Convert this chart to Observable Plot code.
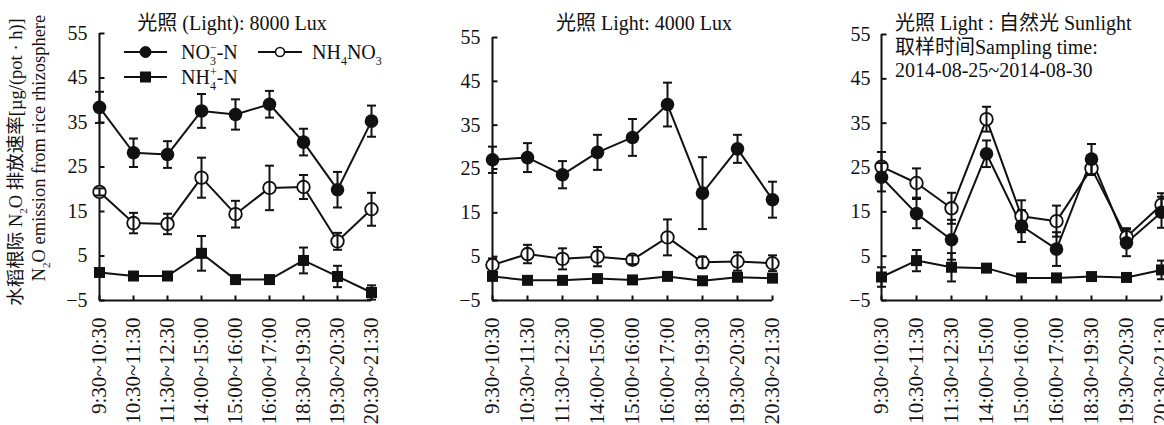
<!DOCTYPE html>
<html><head><meta charset="utf-8">
<script src="https://cdn.jsdelivr.net/npm/d3@7"></script>
<script src="https://cdn.jsdelivr.net/npm/@observablehq/plot@0.6"></script>
<style>
html,body{margin:0;padding:0;background:#fff;overflow:hidden;}
#wrap{position:relative;width:1164px;height:425px;overflow:hidden;background:#fff;}
#wrap svg{position:absolute;top:0;}
#wrap svg text{font-family:"Liberation Serif","Times New Roman","Noto Sans CJK SC",serif !important;}
</style></head><body><div id="wrap"></div>
<script>
// ---------- data ----------
const times = ["9:30~10:30","10:30~11:30","11:30~12:30","14:00~15:00","15:00~16:00","16:00~17:00","18:30~19:30","19:30~20:30","20:30~21:30"];
const yTicks = [-5, 5, 15, 25, 35, 45, 55];

// 8000 Lux
const no3_8000      = [38.4, 28.2, 27.8, 37.6, 36.8, 39.1, 30.6, 19.9, 35.3];
const no3_8000_err  = [3.5, 3.2, 3.0, 3.8, 3.4, 3.0, 3.0, 4.0, 3.5];
const mix_8000      = [19.4, 12.4, 12.2, 22.6, 14.4, 20.3, 20.5, 8.3, 15.5];
const mix_8000_err  = [0.8, 2.3, 2.3, 4.5, 3.0, 5.0, 2.7, 1.9, 3.7];
const nh4_8000      = [1.3, 0.5, 0.5, 5.6, -0.3, -0.3, 4.0, 0.4, -3.2];
const nh4_8000_err  = [0.5, 0.4, 0.4, 3.9, 0.4, 0.4, 2.9, 2.4, 1.6];

// 4000 Lux
const no3_4000      = [27.1, 27.6, 23.7, 28.8, 32.2, 39.7, 19.5, 29.6, 18.0];
const no3_4000_err  = [3.0, 3.3, 3.1, 4.0, 4.2, 5.0, 8.2, 3.2, 4.1];
const mix_4000      = [3.1, 5.6, 4.5, 5.0, 4.3, 9.4, 3.7, 3.9, 3.5];
const mix_4000_err  = [1.5, 2.1, 2.4, 2.2, 1.0, 4.1, 1.3, 2.1, 1.8];
const nh4_4000      = [0.5, -0.4, -0.4, 0.0, -0.3, 0.5, -0.5, 0.3, 0.1];
const nh4_4000_err  = [0.8, 0.3, 0.3, 0.3, 0.3, 0.4, 0.3, 0.4, 0.4];

// Sunlight
const no3_sun       = [22.8, 14.6, 8.7, 28.1, 11.8, 6.6, 26.9, 8.0, 14.9];
const no3_sun_err   = [3.2, 3.3, 4.5, 3.0, 3.6, 3.8, 3.4, 3.0, 3.5];
const mix_sun       = [25.2, 21.5, 15.8, 35.9, 14.0, 12.9, 24.8, 9.3, 16.6];
const mix_sun_err   = [3.3, 3.3, 3.5, 2.8, 3.6, 3.5, 1.5, 2.0, 2.6];
const nh4_sun       = [0.3, 4.0, 2.5, 2.3, 0.1, 0.1, 0.4, 0.2, 1.9];
const nh4_sun_err   = [2.2, 2.4, 3.2, 0.5, 0.5, 0.5, 0.5, 0.4, 2.1];

// ---------- drawing ----------
const FONT = '"Liberation Serif","Times New Roman","Noto Sans CJK SC",serif';
const INK = "#111";
const wrap = document.getElementById("wrap");
const capSymbol = {draw(ctx){ ctx.moveTo(-4.5, 0); ctx.lineTo(4.5, 0); }};
const yTickSymbol = {draw(ctx){ ctx.moveTo(0, 0); ctx.lineTo(5, 0); }};
const xTickSymbol = {draw(ctx){ ctx.moveTo(0, 0); ctx.lineTo(0, -5); }};

function rows(vals, errs, series) {
  return vals.map((v, i) => ({time: times[i], v, lo: v - errs[i], hi: v + errs[i], series}));
}

function panel({no3, no3Err, mix, mixErr, nh4, nh4Err, left, marginTop, innerWidth}) {
  const A = rows(no3, no3Err, "NO3"), B = rows(mix, mixErr, "NH4NO3"), C = rows(nh4, nh4Err, "NH4");
  const all = [...B, ...A, ...C];
  const mR = 40;
  const chart = Plot.plot({
    width: 98 + innerWidth + mR, height: 425,
    marginLeft: 98, marginRight: mR, marginTop, marginBottom: 125,
    style: {fontFamily: FONT, fontSize: "20px", color: INK, background: "transparent", overflow: "visible"},
    x: {type: "point", domain: times, padding: 0},
    y: {domain: [-5, 55]},
    marks: [
      Plot.ruleX([times[0]], {y1: -5, y2: 55, stroke: INK, strokeWidth: 2}),
      Plot.ruleY([-5], {x1: () => times[0], x2: () => times[times.length - 1], stroke: INK, strokeWidth: 2}),
      Plot.dot(yTicks, {x: () => times[0], y: d => d, symbol: yTickSymbol, fill: "none", stroke: INK, strokeWidth: 2}),
      Plot.dot(times, {x: d => d, y: () => -5, symbol: xTickSymbol, fill: "none", stroke: INK, strokeWidth: 2}),
      Plot.axisY({ticks: yTicks, tickSize: 0, tickPadding: 11, label: null, fontSize: 20, fill: INK}),
      Plot.axisX({tickSize: 0, tickPadding: 17, tickRotate: -90, label: null, fontSize: 21, fill: INK}),
      Plot.line(A, {x: "time", y: "v", stroke: INK, strokeWidth: 2}),
      Plot.line(B, {x: "time", y: "v", stroke: INK, strokeWidth: 2}),
      Plot.line(C, {x: "time", y: "v", stroke: INK, strokeWidth: 2}),
      Plot.dot(B, {x: "time", y: "v", symbol: "circle", r: 6.3, fill: "white", stroke: INK, strokeWidth: 1.8}),
      Plot.ruleX(all, {x: "time", y1: "lo", y2: "hi", stroke: INK, strokeWidth: 2}),
      Plot.dot(all, {x: "time", y: "lo", symbol: capSymbol, fill: "none", stroke: INK, strokeWidth: 2}),
      Plot.dot(all, {x: "time", y: "hi", symbol: capSymbol, fill: "none", stroke: INK, strokeWidth: 2}),
      Plot.dot(A, {x: "time", y: "v", symbol: "circle", r: 6.8, fill: INK}),
      Plot.dot(C, {x: "time", y: "v", symbol: "square", r: 6.2, fill: INK})
    ]
  });
  chart.style.left = left + "px";
  chart.style.maxWidth = "none";
  wrap.appendChild(chart);
}

panel({no3: no3_8000, no3Err: no3_8000_err, mix: mix_8000, mixErr: mix_8000_err, nh4: nh4_8000, nh4Err: nh4_8000_err, left: 0, marginTop: 33, innerWidth: 274});
panel({no3: no3_4000, no3Err: no3_4000_err, mix: mix_4000, mixErr: mix_4000_err, nh4: nh4_4000, nh4Err: nh4_4000_err, left: 393, marginTop: 37, innerWidth: 282});
panel({no3: no3_sun, no3Err: no3_sun_err, mix: mix_sun, mixErr: mix_sun_err, nh4: nh4_sun, nh4Err: nh4_sun_err, left: 783, marginTop: 34, innerWidth: 280});

// ---------- overlay: titles, legend, y label ----------
const svg = d3.select(wrap).append("svg")
  .attr("width", 1164).attr("height", 425)
  .style("left", "0px").style("font-family", FONT).style("fill", INK);

function rich(sel, parts, size) {
  const small = Math.round(size * 0.62);
  let shift = 0;
  for (const p of parts) {
    const [t, kind] = p;
    if (!kind) {
      sel.append("tspan").attr("dy", -shift).attr("font-size", size).text(t);
      shift = 0;
    } else if (kind === "sub") {
      const d = size * 0.28;
      sel.append("tspan").attr("dy", d - shift).attr("font-size", small).text(t);
      shift = d;
    } else if (kind === "subsup") {
      const [a, b] = t;
      const d = size * 0.28, u = -size * 0.38;
      sel.append("tspan").attr("dy", d - shift).attr("font-size", small).text(a);
      sel.append("tspan").attr("dx", -small * 0.5).attr("dy", u - d).attr("font-size", small).text(b);
      shift = u;
    }
  }
}

// Titles
svg.append("text").attr("x", 232).attr("y", 23).attr("dy", "0.35em").attr("text-anchor", "middle")
  .attr("font-size", 20).text("光照 (Light): 8000 Lux");
svg.append("text").attr("x", 644).attr("y", 23).attr("dy", "0.35em").attr("text-anchor", "middle")
  .attr("font-size", 20).text("光照 Light: 4000 Lux");
[["光照 Light : 自然光 Sunlight", 23], ["取样时间Sampling time:", 47], ["2014-08-25~2014-08-30", 70]].forEach(([t, y]) => {
  svg.append("text").attr("x", 895).attr("y", y).attr("dy", "0.35em").attr("font-size", 20).text(t);
});

// Legend
const lg = svg.append("g").attr("stroke", INK);
function legendItem(x1, x2, y, marker, tx, parts) {
  lg.append("line").attr("x1", x1).attr("x2", x2).attr("y1", y).attr("y2", y).attr("stroke-width", 2);
  const mx = (x1 + x2) / 2;
  if (marker === "dot") lg.append("circle").attr("cx", mx).attr("cy", y).attr("r", 5.5).attr("fill", INK);
  if (marker === "open") lg.append("circle").attr("cx", mx).attr("cy", y).attr("r", 4.5).attr("fill", "white").attr("stroke-width", 1.6);
  if (marker === "square") lg.append("rect").attr("x", mx - 5).attr("y", y - 5).attr("width", 10).attr("height", 10).attr("fill", INK);
  const t = svg.append("text").attr("x", tx).attr("y", y + 7).attr("font-size", 20);
  rich(t, parts, 20);
}
legendItem(124, 167, 52, "dot", 181, [["NO"], [["3", "−"], "subsup"], ["-N"]]);
legendItem(258, 302, 52, "open", 312, [["NH"], ["4", "sub"], ["NO"], ["3", "sub"]]);
legendItem(124, 167, 77, "square", 181, [["NH"], [["4", "+"], "subsup"], ["-N"]]);

// Y label
const yl1 = svg.append("text").attr("transform", "translate(22,162) rotate(-90)").attr("text-anchor", "middle").attr("dy", "0.35em");
rich(yl1, [["水稻根际 N"], ["2", "sub"], ["O 排放速率[µg/(pot · h)]"]], 18.5);
const yl2 = svg.append("text").attr("transform", "translate(45,148) rotate(-90)").attr("text-anchor", "middle").attr("dy", "0.35em");
rich(yl2, [["N"], ["2", "sub"], ["O emission from rice rhizosphere"]], 18.5);
</script>
</body></html>
